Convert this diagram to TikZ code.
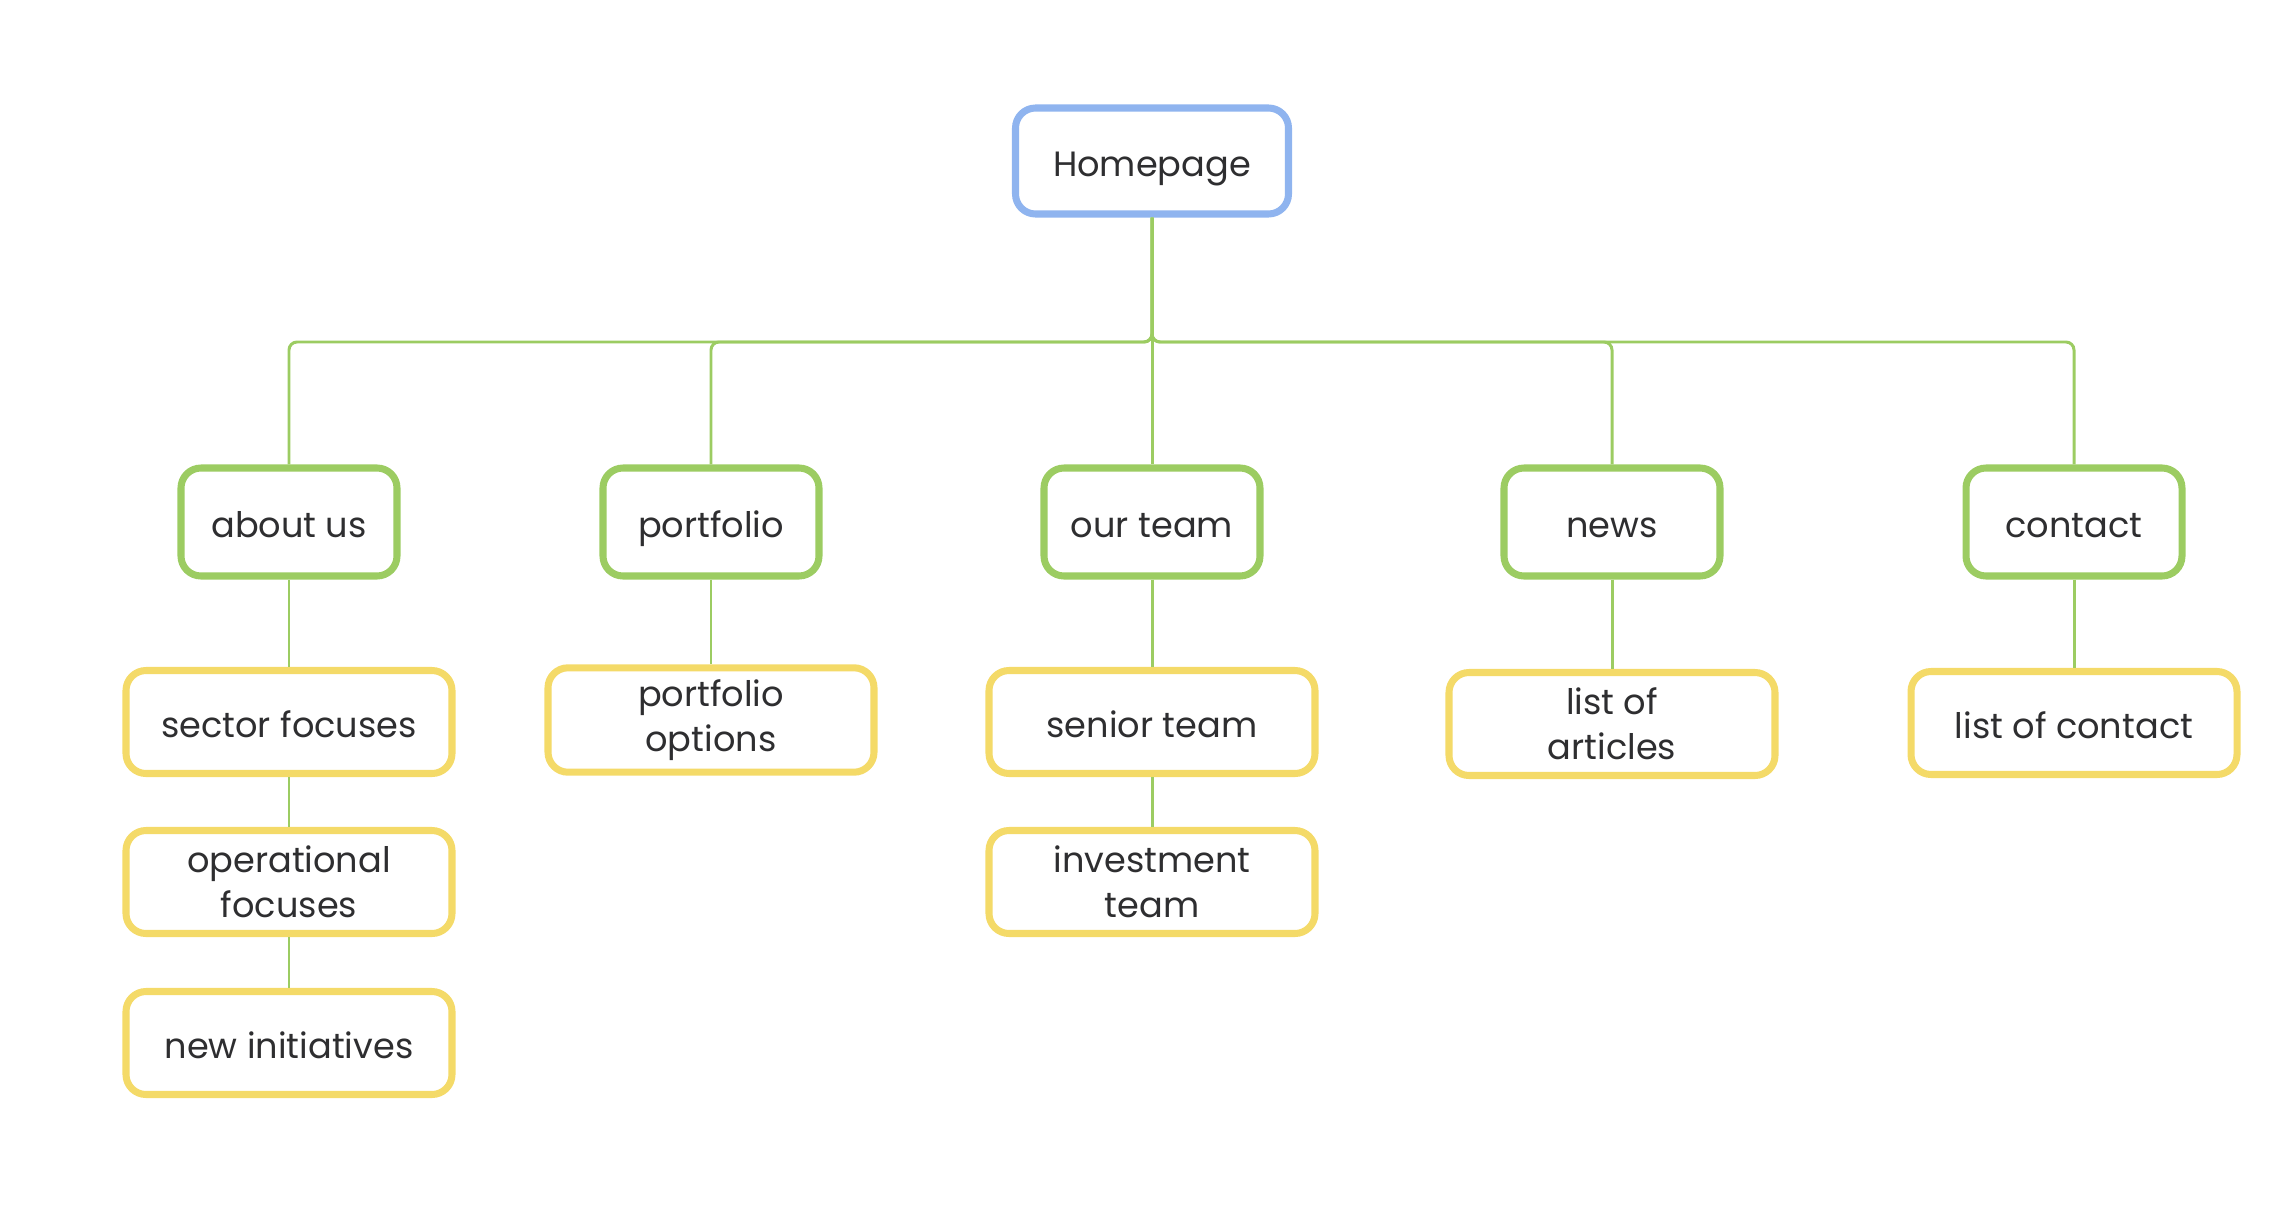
\documentclass[tikz,border=0pt]{standalone}
\usepackage{fontspec}
\setmainfont{Poppins}
\usepackage{xcolor}
\usepackage{tikz}
\usetikzlibrary{calc}

\definecolor{homeblue}{HTML}{8FB4EF}
\definecolor{pagegreen}{HTML}{9CCC62}
\definecolor{subyellow}{HTML}{F4DA68}
\definecolor{labelgray}{HTML}{2E2E30}

\begin{document}
\begin{tikzpicture}[
    box/.style={draw, line width=2pt, rounded corners=0.2cm, fill=white,
      text=labelgray, font=\fontsize{10}{12.8}\selectfont, align=center,
      text height=0.96em, text depth=0.1em},
    twolines/.style={text height={}, text depth={}},
    homebox/.style={box, draw=homeblue, minimum width=2.73cm, minimum height=1.06cm},
    pagebox/.style={box, draw=pagegreen, minimum width=2.16cm, minimum height=1.08cm},
    subbox/.style={box, draw=subyellow, minimum width=3.26cm, minimum height=1.03cm},
    link/.style={draw=pagegreen, line width=0.85pt, rounded corners=0.08cm}
  ]

    \useasboundingbox (0, 0) rectangle (22.88, -12.18);

    \node [homebox] (home) at (11.52, -1.61) {Homepage};

    \node [pagebox] (about) at (2.89, -5.22) {about us};
    \node [pagebox] (portfolio) at (7.11, -5.22) {portfolio};
    \node [pagebox] (team) at (11.52, -5.22) {our team};
    \node [pagebox] (news) at (16.12, -5.22) {news};
    \node [pagebox] (contact) at (20.74, -5.22) {contact};

    \node [subbox] (sector) at (2.89, -7.22) {sector focuses};
    \node [subbox, twolines] (operational) at (2.89, -8.82) {operational\\focuses};
    \node [subbox] (initiatives) at (2.89, -10.43) {new initiatives};
    \node [subbox, twolines] (options) at (7.11, -7.20) {portfolio\\options};
    \node [subbox] (senior) at (11.52, -7.22) {senior team};
    \node [subbox, twolines] (investment) at (11.52, -8.82) {investment\\team};
    \node [subbox, twolines] (articles) at (16.12, -7.24) {list of\\articles};
    \node [subbox] (contacts) at (20.74, -7.23) {list of contact};

    \coordinate (bus) at (11.52, -3.42);

    % connectors from the homepage
    \foreach \n in {about, portfolio, team, news, contact} {
      \draw [link] (home.south) -- (home.south |- bus) -| (\n.north);
    }

    % connectors below the pages
    \draw [link] (about) -- (sector);
    \draw [link] (sector) -- (operational);
    \draw [link] (operational) -- (initiatives);
    \draw [link] (portfolio) -- (options);
    \draw [link] (team) -- (senior);
    \draw [link] (senior) -- (investment);
    \draw [link] (news) -- (articles);
    \draw [link] (contact) -- (contacts);

  \end{tikzpicture}
\end{document}
